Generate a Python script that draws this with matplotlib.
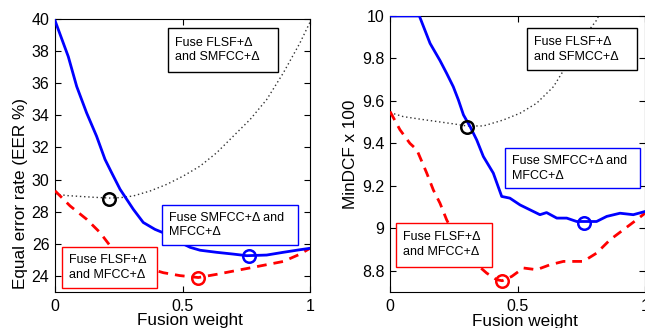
import matplotlib
matplotlib.use("Agg")
import matplotlib.pyplot as plt
from matplotlib.patches import Rectangle

plt.rcParams['font.family'] = ['Liberation Sans', 'DejaVu Sans']

# ---------------- Left panel: EER ----------------
eer_blue_x = [0, 0.052, 0.085, 0.124, 0.163, 0.196, 0.222, 0.255, 0.307, 0.346, 0.392,
              0.438, 0.49, 0.53, 0.569, 0.634, 0.699, 0.752, 0.83, 0.895, 0.96, 1.0]
eer_blue_y = [39.9, 37.66, 35.8, 34.15, 32.7, 31.26, 30.43, 29.4, 28.15, 27.33, 26.9,
              26.6, 26.09, 25.78, 25.6, 25.47, 25.36, 25.26, 25.3, 25.47, 25.63, 25.72]

eer_red_x = [0, 0.059, 0.124, 0.176, 0.216, 0.26, 0.31, 0.36, 0.425, 0.49, 0.562,
             0.634, 0.699, 0.765, 0.83, 0.895, 0.96, 1.0]
eer_red_y = [29.3, 28.36, 27.53, 26.71, 25.88, 25.4, 24.9, 24.5, 24.2, 24.02, 23.9,
             24.1, 24.3, 24.5, 24.7, 24.9, 25.35, 25.72]

eer_black_x = [0, 0.05, 0.1, 0.15, 0.213, 0.26, 0.307, 0.373, 0.438, 0.503, 0.569,
               0.634, 0.699, 0.765, 0.83, 0.895, 0.96, 1.0]
eer_black_y = [29.1, 29.0, 28.95, 28.9, 28.85, 28.88, 28.98, 29.29, 29.7, 30.22, 30.84,
               31.67, 32.7, 33.74, 34.98, 36.63, 38.49, 39.8]

eer_min_black = (0.213, 28.82)
eer_min_blue = (0.762, 25.22)
eer_min_red = (0.562, 23.9)

eer_yticks = [24, 26, 28, 30, 32, 34, 36, 38, 40]

# ---------------- Right panel: MinDCF ----------------
dcf_blue_x = [0, 0.115, 0.157, 0.196, 0.222, 0.248, 0.268, 0.288, 0.314, 0.34, 0.366,
              0.405, 0.438, 0.47, 0.51, 0.549, 0.588, 0.614, 0.654, 0.693, 0.732,
              0.771, 0.81, 0.85, 0.902, 0.954, 1.0]
dcf_blue_y = [10, 10, 9.871, 9.79, 9.73, 9.667, 9.605, 9.534, 9.479, 9.416, 9.338,
              9.26, 9.15, 9.142, 9.11, 9.087, 9.064, 9.074, 9.048, 9.048, 9.032,
              9.032, 9.032, 9.056, 9.071, 9.064, 9.079]

dcf_red_x = [0, 0.039, 0.078, 0.105, 0.144, 0.17, 0.196, 0.222, 0.26, 0.3, 0.34, 0.379,
             0.418, 0.44, 0.477, 0.523, 0.575, 0.627, 0.68, 0.758, 0.81, 0.863, 0.915,
             0.967, 1.0]
dcf_red_y = [9.55, 9.464, 9.40, 9.37, 9.26, 9.18, 9.118, 9.04, 8.95, 8.88, 8.83, 8.789,
             8.758, 8.753, 8.773, 8.813, 8.805, 8.828, 8.844, 8.844, 8.883, 8.946, 8.993,
             9.04, 9.071]

dcf_black_x = [0, 0.052, 0.118, 0.183, 0.248, 0.301, 0.366, 0.444, 0.51, 0.575, 0.641,
               0.706, 0.771, 0.81, 0.83]
dcf_black_y = [9.545, 9.526, 9.514, 9.503, 9.492, 9.482, 9.482, 9.51, 9.542, 9.589,
               9.667, 9.793, 9.918, 9.98, 10.03]

dcf_min_black = (0.301, 9.479)
dcf_min_blue = (0.761, 9.024)
dcf_min_red = (0.44, 8.753)

dcf_yticks = [8.8, 9, 9.2, 9.4, 9.6, 9.8, 10]
dcf_yticklabels = ['8.8', '9', '9.2', '9.4', '9.6', '9.8', '10']

xticks = [0, 0.5, 1]
xticklabels = ['0', '0.5', '1']

label_black_left = 'Fuse FLSF+\u0394\nand SMFCC+\u0394'
label_black_right = 'Fuse FLSF+\u0394\nand SFMCC+\u0394'
label_blue = 'Fuse SMFCC+\u0394 and\nMFCC+\u0394'
label_red = 'Fuse FLSF+\u0394\nand MFCC+\u0394'

fig = plt.figure(figsize=(6.45, 3.28), dpi=100)
axL = fig.add_axes([0.0853, 0.1098, 0.3953, 0.8323])
axR = fig.add_axes([0.6047, 0.1098, 0.3953, 0.8415])

BLUE = '#0000ff'
RED = '#ff0000'


def draw(ax, bx, by, rx, ry, kx, ky, mk, mb, mr):
    ax.plot(kx, ky, color='0.2', lw=1.0, linestyle=(0, (1, 2.0)), zorder=2)
    ax.plot(rx, ry, color=RED, lw=2, linestyle=(0, (3.5, 2.5)), zorder=3)
    ax.plot(bx, by, color=BLUE, lw=2, zorder=3)
    ax.plot([mk[0]], [mk[1]], 'o', ms=9, mfc='none', mec='k', mew=1.8, zorder=4)
    ax.plot([mb[0]], [mb[1]], 'o', ms=9, mfc='none', mec=BLUE, mew=1.8, zorder=4)
    ax.plot([mr[0]], [mr[1]], 'o', ms=9, mfc='none', mec=RED, mew=1.8, zorder=4)


def box(ax, x0, y0, x1, y1, color, text):
    ax.add_patch(Rectangle((x0, y0), x1 - x0, y1 - y0, transform=ax.transAxes,
                           fc='white', ec=color, lw=1.0, zorder=6, clip_on=False))
    ax.text(x0 + 0.028, (y0 + y1) / 2, text, transform=ax.transAxes, ha='left',
            va='center', fontsize=9, linespacing=1.3, zorder=7)


draw(axL, eer_blue_x, eer_blue_y, eer_red_x, eer_red_y, eer_black_x, eer_black_y,
     eer_min_black, eer_min_blue, eer_min_red)
draw(axR, dcf_blue_x, dcf_blue_y, dcf_red_x, dcf_red_y, dcf_black_x, dcf_black_y,
     dcf_min_black, dcf_min_blue, dcf_min_red)

axL.set_xlim(0, 1)
axL.set_ylim(23, 40)
axL.set_yticks(eer_yticks)
axR.set_xlim(0, 1)
axR.set_ylim(8.7, 10)
axR.set_yticks(dcf_yticks)
axR.set_yticklabels(dcf_yticklabels)

for ax in (axL, axR):
    ax.set_xticks(xticks)
    ax.set_xticklabels(xticklabels)
    ax.tick_params(direction='in', top=True, right=True, length=4, width=0.8,
                   labelsize=11.5)
    ax.tick_params(axis='y', pad=4)
    ax.tick_params(axis='x', pad=5)
    for s in ax.spines.values():
        s.set_linewidth(0.8)
    ax.set_xlabel('Fusion weight', fontsize=12.3)
    ax.xaxis.set_label_coords(0.53, -0.078)

axL.set_ylabel('Equal error rate (EER %)', fontsize=12.3)
axL.yaxis.set_label_coords(-0.105, 0.359)
axR.set_ylabel('MinDCF x 100', fontsize=12.3)
axR.yaxis.set_label_coords(-0.124, 0.5)

box(axL, 0.444, 0.807, 0.876, 0.966, 'k', label_black_left)
box(axL, 0.418, 0.172, 0.954, 0.319, BLUE, label_blue)
box(axL, 0.026, 0.016, 0.401, 0.164, RED, label_red)

box(axR, 0.536, 0.804, 0.967, 0.955, 'k', label_black_right)
box(axR, 0.451, 0.376, 0.980, 0.521, BLUE, label_blue)
box(axR, 0.024, 0.092, 0.399, 0.251, RED, label_red)

fig.savefig('out.png', dpi=100)
